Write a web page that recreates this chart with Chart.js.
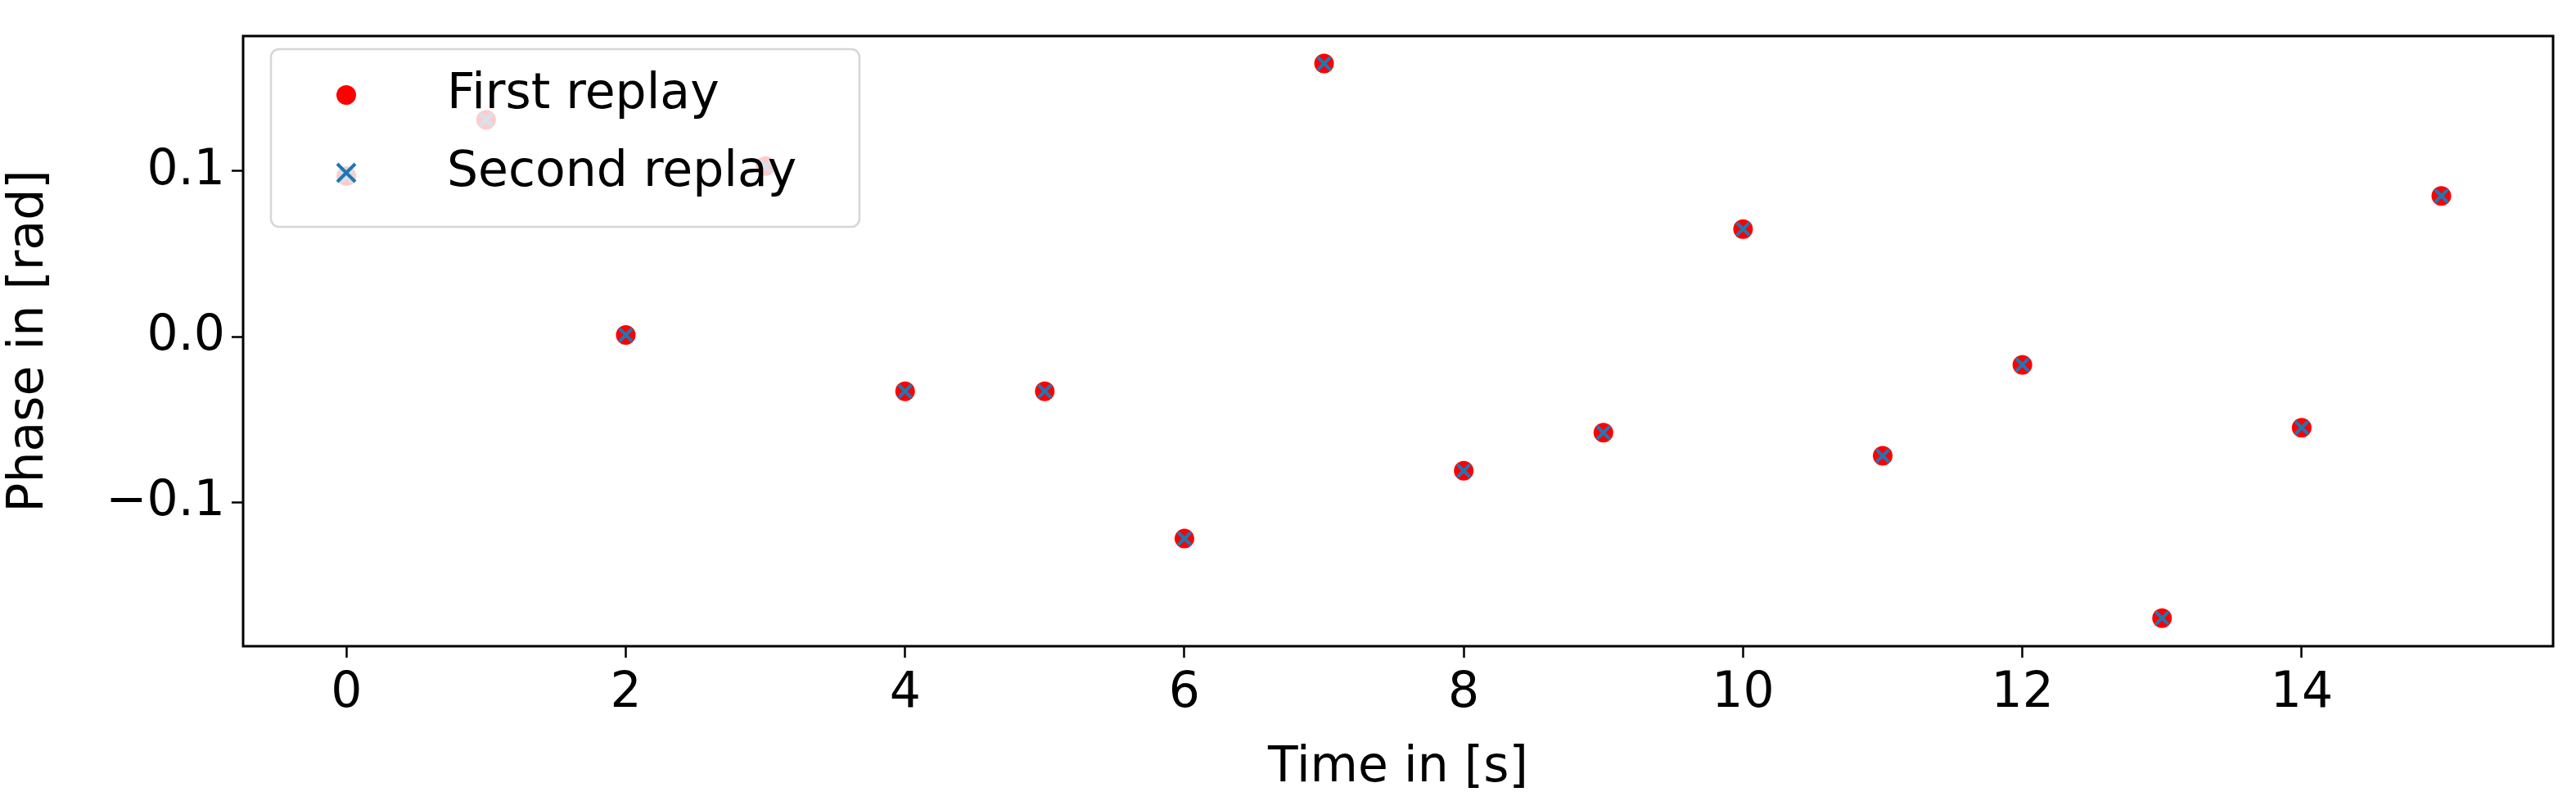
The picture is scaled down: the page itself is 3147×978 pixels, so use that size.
<!DOCTYPE html>
<html>
<head>
<meta charset="utf-8">
<script src="https://cdn.jsdelivr.net/npm/chart.js@4/dist/chart.umd.min.js"></script>
<style>
  html, body { margin: 0; padding: 0; background: #fff; }
  #wrap { width: 3147px; height: 978px; }
</style>
</head>
<body>
<div id="wrap"><canvas id="phaseChart"></canvas></div>
<script>
const times = [0, 1, 2, 3, 4, 5, 6, 7, 8, 9, 10, 11, 12, 13, 14, 15];
const firstReplay = [0.097, 0.131, 0.001, 0.103, -0.033, -0.033, -0.122, 0.165, -0.081, -0.058, 0.065, -0.072, -0.017, -0.170, -0.055, 0.085];
const secondReplay = [0.097, 0.131, 0.001, 0.103, -0.033, -0.033, -0.122, 0.165, -0.081, -0.058, 0.065, -0.072, -0.017, -0.170, -0.055, 0.085];
const xTicks = [0, 2, 4, 6, 8, 10, 12, 14];
const yTicks = [-0.1, 0.0, 0.1];

const FONT = '"DejaVu Sans", sans-serif';
const FS = 60;

// frame + legend drawn after the points, like matplotlib does
const framePlugin = {
    id: 'frame',
    afterDraw(chart) {
        const { ctx, chartArea: a } = chart;
        ctx.save();
        ctx.strokeStyle = '#000';
        ctx.lineWidth = 3;
        ctx.strokeRect(a.left, a.top, a.right - a.left, a.bottom - a.top);

        // legend box
        const bx = 331, by = 60, bw = 719, bh = 217, r = 10;
        ctx.fillStyle = 'rgba(255,255,255,0.8)';
        ctx.strokeStyle = 'rgba(204,204,204,0.8)';
        ctx.lineWidth = 2.5;
        ctx.beginPath();
        ctx.roundRect(bx, by, bw, bh, r);
        ctx.fill();
        ctx.stroke();

        ctx.fillStyle = '#ff0000';
        ctx.beginPath();
        ctx.arc(423, 116, 12, 0, Math.PI * 2);
        ctx.fill();

        ctx.strokeStyle = '#1f77b4';
        ctx.lineWidth = 4;
        ctx.beginPath();
        ctx.moveTo(412, 200); ctx.lineTo(434, 222);
        ctx.moveTo(434, 200); ctx.lineTo(412, 222);
        ctx.stroke();

        ctx.fillStyle = '#000';
        ctx.font = FS + 'px ' + FONT;
        ctx.textBaseline = 'middle';
        ctx.fillText('First replay', 546, 116);
        ctx.fillText('Second replay', 546, 211);
        ctx.restore();
    }
};

const ctx = document.getElementById('phaseChart').getContext('2d');
new Chart(ctx, {
    type: 'scatter',
    data: {
        datasets: [{
            label: 'First replay',
            order: 2,
            data: times.map((t, i) => ({ x: t, y: firstReplay[i] })),
            pointStyle: 'circle',
            pointRadius: 12,
            backgroundColor: '#ff0000',
            borderColor: '#ff0000',
            borderWidth: 0
        }, {
            label: 'Second replay',
            order: 1,
            data: times.map((t, i) => ({ x: t, y: secondReplay[i] })),
            pointStyle: 'crossRot',
            pointRadius: 11,
            backgroundColor: '#1f77b4',
            borderColor: '#1f77b4',
            borderWidth: 4
        }]
    },
    options: {
        responsive: true,
        maintainAspectRatio: false,
        animation: false,
        devicePixelRatio: 1,
        layout: { padding: { top: 10, right: 28, left: 0, bottom: 0 } },
        plugins: { legend: { display: false }, tooltip: { enabled: false } },
        scales: {
            x: {
                type: 'linear',
                min: -0.74,
                max: 15.8,
                afterBuildTicks: s => { s.ticks = xTicks.map(v => ({ value: v })); },
                afterFit: s => { s.height = 189; },
                grid: { drawOnChartArea: false, drawTicks: true, tickLength: 14, tickWidth: 2.5, tickColor: '#000' },
                border: { display: false },
                ticks: { color: '#000', font: { size: FS, family: FONT }, padding: 8, maxRotation: 0 },
                title: { display: true, text: 'Time in [s]', color: '#000', font: { size: FS, family: FONT }, padding: { top: 0 } }
            },
            y: {
                min: -0.187,
                max: 0.1816,
                afterBuildTicks: s => { s.ticks = yTicks.map(v => ({ value: v })); },
                afterFit: s => { s.width = 297; },
                grid: { drawOnChartArea: false, drawTicks: true, tickLength: 14, tickWidth: 2.5, tickColor: '#000' },
                border: { display: false },
                ticks: {
                    color: '#000', font: { size: FS, family: FONT }, padding: 8,
                    callback: v => (v < 0 ? '\u2212' : '') + Math.abs(v).toFixed(1)
                },
                title: { display: true, text: 'Phase in [rad]', color: '#000', font: { size: FS, family: FONT }, padding: { top: 0, bottom: 4 } }
            }
        }
    },
    plugins: [framePlugin]
});
</script>
</body>
</html>
